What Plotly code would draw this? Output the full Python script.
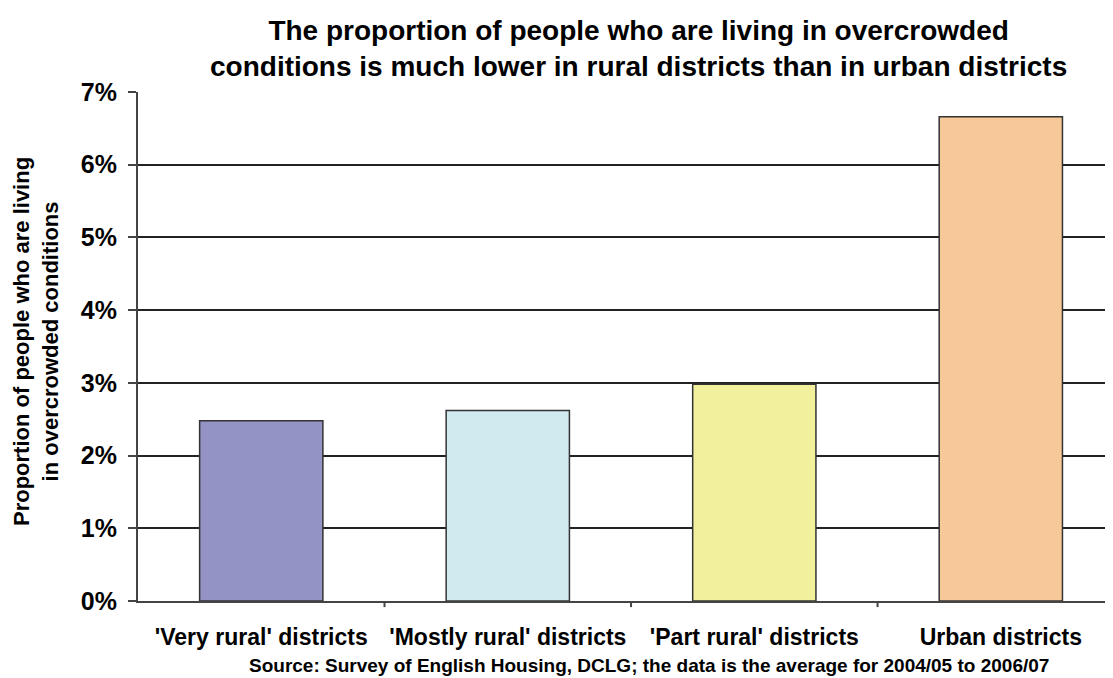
import plotly.graph_objects as go

# Data
categories = ["'Very rural' districts", "'Mostly rural' districts",
              "'Part rural' districts", "Urban districts"]
overcrowded_pct = [2.48, 2.62, 2.98, 6.66]
bar_colors = ["#9393C6", "#CFEBEF", "#F2F09C", "#F8C998"]
y_ticks = [0, 1, 2, 3, 4, 5, 6, 7]
y_tick_labels = [f"{v}%" for v in y_ticks]

FONT = "Liberation Sans, Arial, sans-serif"

fig = go.Figure(go.Bar(
    x=list(range(len(categories))),
    y=overcrowded_pct,
    width=0.5,
    marker=dict(color=bar_colors, line=dict(color="#333333", width=1.5)),
))

# page body adds an 8px margin, so the figure is a bit smaller than the window
fig.update_layout(
    width=1105,
    height=670,
    margin=dict(l=130, r=0, t=84, b=77),
    plot_bgcolor="white",
    paper_bgcolor="white",
    showlegend=False,
    font=dict(family=FONT, color="black"),
)

fig.update_xaxes(
    range=[-0.5, 3.455],
    tickmode="array",
    tickvals=list(range(len(categories))),
    ticktext=[f"<b>{c}</b>" for c in categories],
    tickfont=dict(size=23, family=FONT, color="black"),
    ticklabelstandoff=14,
    showgrid=False,
    showline=True, linecolor="#444444", linewidth=2,
    ticks="", ticklen=0,
    fixedrange=True,
)

fig.update_yaxes(
    range=[0, 7],
    tickmode="array",
    tickvals=y_ticks,
    ticktext=[f"<b>{t}</b>" for t in y_tick_labels],
    tickfont=dict(size=25, family=FONT, color="black"),
    ticklabelstandoff=6,
    showgrid=True, gridcolor="#222222", gridwidth=1.5,
    showline=True, linecolor="#444444", linewidth=2,
    ticks="outside", ticklen=8, tickcolor="#444444", tickwidth=2,
    zeroline=False,
)

# category boundary ticks on the x axis
for b in [0.5, 1.5, 2.5]:
    fig.add_shape(type="line", xref="x", yref="paper", x0=b, x1=b, y0=0, y1=-0.012,
                  line=dict(color="#444444", width=2))

fig.add_annotation(
    text="<b>The proportion of people who are living in overcrowded<br>"
         "conditions is much lower in rural districts than in urban districts</b>",
    xref="paper", yref="paper", x=0.513, y=1, xanchor="center", yanchor="bottom",
    yshift=8, showarrow=False,
    font=dict(size=28, family=FONT, color="black"),
)

fig.add_annotation(
    text="<b>Proportion of people who are living<br>in overcrowded conditions</b>",
    xref="paper", yref="paper", x=-0.104, y=0.51, xanchor="center", yanchor="middle",
    textangle=-90, showarrow=False,
    font=dict(size=22, family=FONT, color="black"),
)

fig.add_annotation(
    text="<b>Source: Survey of English Housing, DCLG; the data is the average for 2004/05 to 2006/07</b>",
    xref="paper", yref="paper", x=0.524, y=0, xanchor="center", yanchor="middle",
    yshift=-64, showarrow=False,
    font=dict(size=19, family=FONT, color="black"),
)

fig.write_html("out.html")
